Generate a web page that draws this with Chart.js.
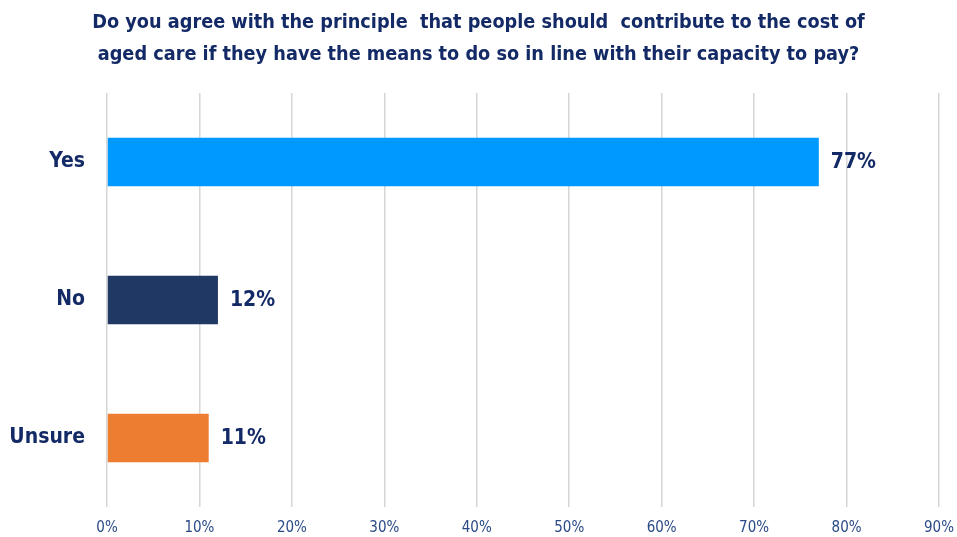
<!DOCTYPE html>
<html>
<head>
<meta charset="utf-8">
<script src="https://cdn.jsdelivr.net/npm/chart.js@4"></script>
<style>
  html, body { margin: 0; padding: 0; background: #fff; overflow: hidden; }
  canvas { display: block; }
</style>
</head>
<body>
<canvas id="barChart" width="957" height="537"></canvas>
<script>
const answers = ["Yes", "No", "Unsure"];
const shares = [77, 12, 11];
const barColors = ["#0099FF", "#1F3864", "#ED7D31"];
const titleLines = [
  "Do you agree with the principle  that people should  contribute to the cost of",
  "aged care if they have the means to do so in line with their capacity to pay?"
];

const FONT = "'Liberation Sans Narrow', 'Arial Narrow', 'DejaVu Sans Condensed', sans-serif";
const NAVY = "#132A66";

// writes the percentage just past the end of each bar
const valueLabels = {
  id: "valueLabels",
  afterDatasetsDraw(chart) {
    const ctx = chart.ctx;
    const meta = chart.getDatasetMeta(0);
    ctx.save();
    ctx.font = "bold 21px " + FONT;
    ctx.fillStyle = NAVY;
    ctx.textAlign = "left";
    ctx.textBaseline = "middle";
    meta.data.forEach((bar, i) => {
      ctx.fillText(shares[i] + "%", bar.x + 12, bar.y + 1);
    });
    ctx.restore();
  }
};

new Chart(document.getElementById("barChart"), {
  type: "bar",
  data: {
    labels: answers,
    datasets: [{
      data: shares,
      backgroundColor: barColors,
      categoryPercentage: 1,
      barPercentage: 0.35
    }]
  },
  options: {
    indexAxis: "y",
    responsive: false,
    animation: false,
    layout: { padding: 0 },
    plugins: {
      legend: { display: false },
      tooltip: { enabled: false },
      title: {
        display: true,
        text: titleLines,
        color: NAVY,
        font: { family: FONT, size: 19.7, weight: "bold", lineHeight: "32px" },
        padding: { top: 7, bottom: 22 }
      }
    },
    scales: {
      x: {
        min: 0,
        max: 90,
        ticks: {
          stepSize: 10,
          callback: v => v + "%",
          color: "#2A4A86",
          font: { family: FONT, size: 15 },
          padding: 12
        },
        grid: { color: "#D6D6D6", lineWidth: 1.5, drawTicks: false },
        border: { display: false },
        afterFit(scale) {
          scale.height = 30;
          scale.paddingLeft = 0;
          scale.paddingRight = 18;
        }
      },
      y: {
        ticks: {
          color: NAVY,
          font: { family: FONT, size: 21, weight: "bold" },
          padding: 22
        },
        grid: { display: false, drawTicks: false },
        border: { display: false },
        afterFit(scale) {
          scale.width = 107;
          scale.paddingTop = 0;
          scale.paddingBottom = 0;
        }
      }
    }
  },
  plugins: [valueLabels]
});
</script>
</body>
</html>
